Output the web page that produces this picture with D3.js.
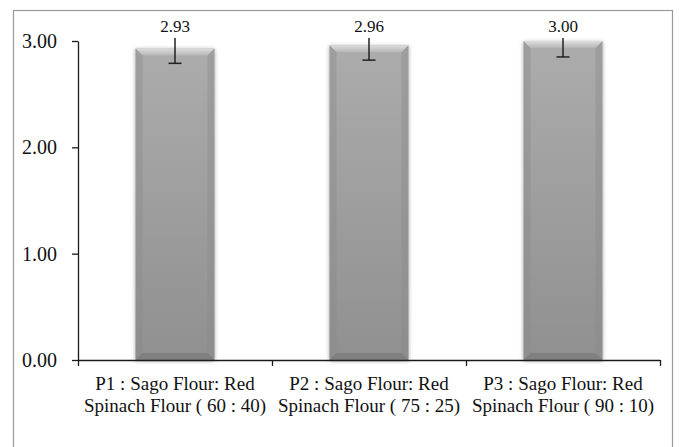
<!DOCTYPE html>
<html>
<head>
<meta charset="utf-8">
<script src="https://cdn.jsdelivr.net/npm/d3@7"></script>
<style>
  body { margin: 0; background: #fff; }
  svg { display: block; font-family: "Liberation Serif", "Times New Roman", serif; }
</style>
</head>
<body>
<div id="chart"></div>
<script>
// data
const categories = ["P1", "P2", "P3"];
const labelLine1 = ["P1 : Sago Flour: Red", "P2 : Sago Flour: Red", "P3 : Sago Flour: Red"];
const labelLine2 = ["Spinach Flour ( 60 : 40)", "Spinach Flour ( 75 : 25)", "Spinach Flour ( 90 : 10)"];
const values = [2.93, 2.96, 3.00];
const errors = [0.14, 0.14, 0.15];
const yTicks = [0, 1, 2, 3];

const width = 679, height = 447;
const margin = { top: 41, right: 19, bottom: 87, left: 78 };
const innerWidth = width - margin.left - margin.right;
const innerHeight = height - margin.top - margin.bottom;

const data = categories.map((c, i) => ({ cat: c, value: values[i], err: errors[i] }));

const svg = d3.select("#chart")
    .append("svg")
    .attr("width", width)
    .attr("height", height);

// outer frame
svg.append("rect")
    .attr("x", 13.5).attr("y", 10.5)
    .attr("width", 659).attr("height", 445)
    .attr("fill", "none")
    .attr("stroke", "#9a9a9a")
    .attr("stroke-width", 1.2);

const defs = svg.append("defs");
const grad = defs.append("linearGradient")
    .attr("id", "barFill").attr("x1", 0).attr("y1", 0).attr("x2", 0).attr("y2", 1);
grad.append("stop").attr("offset", "0%").attr("stop-color", "#acacac");
grad.append("stop").attr("offset", "100%").attr("stop-color", "#909090");

const topGrad = defs.append("linearGradient")
    .attr("id", "topBevel").attr("x1", 0).attr("y1", 0).attr("x2", 0).attr("y2", 1);
topGrad.append("stop").attr("offset", "0%").attr("stop-color", "#dedede");
topGrad.append("stop").attr("offset", "100%").attr("stop-color", "#b6b6b6");

const shadow = defs.append("filter").attr("id", "shadow")
    .attr("x", "-20%").attr("y", "-10%").attr("width", "140%").attr("height", "120%");
shadow.append("feGaussianBlur").attr("in", "SourceAlpha").attr("stdDeviation", 2.2);
shadow.append("feOffset").attr("dx", 0).attr("dy", 1).attr("result", "blur");
shadow.append("feComponentTransfer").append("feFuncA").attr("type", "linear").attr("slope", 0.35);
const merge = shadow.append("feMerge");
merge.append("feMergeNode");
merge.append("feMergeNode").attr("in", "SourceGraphic");

const innerChart = svg.append("g")
    .attr("transform", `translate(${margin.left}, ${margin.top})`);

// scales
const xScale = d3.scaleBand()
    .domain(categories)
    .range([0, innerWidth])
    .paddingInner(0.593)
    .paddingOuter(0.2965);

const xEdge = d3.scaleLinear()
    .domain([0, categories.length])
    .range([0, innerWidth]);

const yScale = d3.scaleLinear()
    .domain([0, 3])
    .range([innerHeight, 0]);

// bars
const bw = xScale.bandwidth();
const bev = 7;
const bars = innerChart.selectAll(".bar")
    .data(data)
    .join("g")
    .attr("class", "bar")
    .attr("filter", "url(#shadow)");

bars.append("rect")
    .attr("x", d => xScale(d.cat))
    .attr("y", d => yScale(d.value))
    .attr("width", bw)
    .attr("height", d => innerHeight - yScale(d.value))
    .attr("fill", "url(#barFill)");

// bevel edges
bars.append("path")
    .attr("fill", "url(#topBevel)")
    .attr("d", d => {
        const x0 = xScale(d.cat), x1 = x0 + bw, y0 = yScale(d.value);
        return `M${x0},${y0}L${x1},${y0}L${x1 - bev},${y0 + bev}L${x0 + bev},${y0 + bev}Z`;
    });
bars.append("path")
    .attr("fill", "#767676").attr("opacity", 0.6)
    .attr("d", d => {
        const x0 = xScale(d.cat), x1 = x0 + bw, y1 = yScale(0);
        return `M${x0},${y1}L${x1},${y1}L${x1 - bev},${y1 - bev}L${x0 + bev},${y1 - bev}Z`;
    });
bars.append("path")
    .attr("fill", "#8a8a8a").attr("opacity", 0.4)
    .attr("d", d => {
        const x0 = xScale(d.cat), y0 = yScale(d.value), y1 = yScale(0);
        return `M${x0},${y0}L${x0 + bev},${y0 + bev}L${x0 + bev},${y1 - bev}L${x0},${y1}Z`;
    });
bars.append("path")
    .attr("fill", "#8a8a8a").attr("opacity", 0.4)
    .attr("d", d => {
        const x1 = xScale(d.cat) + bw, y0 = yScale(d.value), y1 = yScale(0);
        return `M${x1},${y0}L${x1 - bev},${y0 + bev}L${x1 - bev},${y1 - bev}L${x1},${y1}Z`;
    });

// error bars
const errG = innerChart.selectAll(".err")
    .data(data)
    .join("g")
    .attr("class", "err")
    .attr("stroke", "#222")
    .attr("stroke-width", 1.5);
errG.append("line")
    .attr("x1", d => xScale(d.cat) + bw / 2)
    .attr("x2", d => xScale(d.cat) + bw / 2)
    .attr("y1", d => yScale(d.value + d.err))
    .attr("y2", d => yScale(d.value - d.err));
errG.append("line")
    .attr("x1", d => xScale(d.cat) + bw / 2 - 6.5)
    .attr("x2", d => xScale(d.cat) + bw / 2 + 6.5)
    .attr("y1", d => yScale(d.value - d.err))
    .attr("y2", d => yScale(d.value - d.err));

// value labels (white box hides the upper error bar)
const labelY = -9;
innerChart.selectAll(".label-bg")
    .data(data)
    .join("rect")
    .attr("class", "label-bg")
    .attr("x", d => xScale(d.cat) + bw / 2 - 20)
    .attr("y", labelY - 17)
    .attr("width", 40)
    .attr("height", 23)
    .attr("fill", "#fff");
innerChart.selectAll(".bar-label")
    .data(data)
    .join("text")
    .attr("class", "bar-label")
    .attr("x", d => xScale(d.cat) + bw / 2)
    .attr("y", labelY)
    .attr("text-anchor", "middle")
    .style("font-size", "17px")
    .style("fill", "#111")
    .text(d => d.value.toFixed(2));

// y axis
const leftAxis = d3.axisLeft(yScale)
    .tickValues(yTicks)
    .tickFormat(d3.format(".2f"))
    .tickSize(6)
    .tickSizeOuter(0)
    .tickPadding(15);
innerChart.append("g")
    .attr("class", "y-axis")
    .call(leftAxis);

// x axis, ticks at category edges
const bottomAxis = d3.axisBottom(xEdge)
    .tickValues(d3.range(categories.length + 1))
    .tickFormat("")
    .tickSize(6)
    .tickSizeOuter(0);
innerChart.append("g")
    .attr("class", "x-axis")
    .attr("transform", `translate(0, ${innerHeight})`)
    .call(bottomAxis);

innerChart.selectAll(".y-axis path, .y-axis line, .x-axis path, .x-axis line")
    .attr("stroke", "#1a1a1a")
    .attr("stroke-width", 1.3);
innerChart.selectAll(".y-axis text")
    .style("font-family", "Liberation Serif, serif")
    .style("font-size", "20px")
    .style("fill", "#111");

// category labels, two lines each
[labelLine1, labelLine2].forEach((lines, li) => {
    innerChart.selectAll(".cat-label-" + li)
        .data(categories)
        .join("text")
        .attr("class", "cat-label-" + li)
        .attr("x", d => xScale(d) + bw / 2)
        .attr("y", innerHeight + 30 + li * 22)
        .attr("text-anchor", "middle")
        .style("font-size", "19px")
        .style("fill", "#111")
        .text((d, i) => lines[i]);
});
</script>
</body>
</html>
